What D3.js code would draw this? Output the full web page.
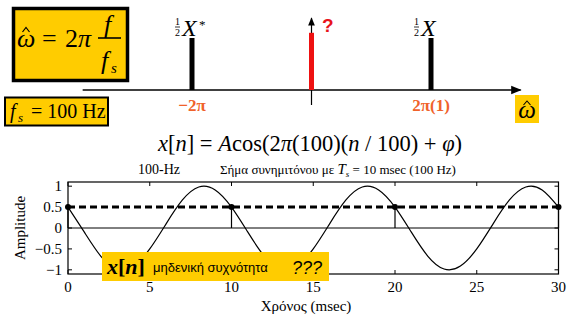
<!DOCTYPE html>
<html><head><meta charset="utf-8">
<script src="https://cdn.jsdelivr.net/npm/d3@7"></script>
<style>body{margin:0;background:#fff} svg{display:block} text{font-family:Liberation Serif, serif}</style>
</head><body><svg id="c" width="581" height="326"></svg>
<script>
// ---- spectrum (top) ----
const specPos = [-2, 0, 2];            // frequency, in units of π
const specMag = [0.5, 0.55, 0.5];      // stem heights
const specColors = ["#000000", "#ee1111", "#000000"];
const specTickLabels = ["−2π", "", "2π(1)"];
// ---- time signal (bottom) ----
const timeMs = [0,1,2,3,4,5,6,7,8,9,10,11,12,13,14,15,16,17,18,19,20,21,22,23,24,25,26,27,28,29,30];
const amplitude = [0.5,-0.10,-0.67,-0.98,-0.91,-0.5,0.10,0.67,0.98,0.91,
                   0.5,-0.10,-0.67,-0.98,-0.91,-0.5,0.10,0.67,0.98,0.91,
                   0.5,-0.10,-0.67,-0.98,-0.91,-0.5,0.10,0.67,0.98,0.91,0.5];
const sampleT = [0, 10, 20, 30];
const sampleV = [0.5, 0.5, 0.5, 0.5];
const xTicks = [0, 5, 10, 15, 20, 25, 30];
const yTicks = [1, 0.5, 0, -0.5, -1];
const yTickLabels = ["1", "0.5", "0", "−0.5", "−1"];

const GOLD = "#FFCC00", ORANGE = "#F0622A";
const SANS = "Liberation Sans, Arial, sans-serif";
const svg = d3.select("#c");

// ===== top: formula boxes =====
svg.append("rect").attr("x",13.5).attr("y",8.5).attr("width",114).attr("height",72)
  .attr("fill",GOLD).attr("stroke","#000").attr("stroke-width",3.5);
const tf = svg.append("g").style("font-size","26px");
tf.append("text").attr("x",17).attr("y",47).style("font-style","italic").text("ω");
tf.append("path").attr("d","M22.5,32 L26,27.5 L29.5,32").attr("fill","none").attr("stroke","#000").attr("stroke-width",1.2);
tf.append("text").attr("x",42).attr("y",47).text("=");
tf.append("text").attr("x",65).attr("y",47).html('2<tspan style="font-style:italic">π</tspan>');
tf.append("line").attr("x1",98).attr("x2",121).attr("y1",38).attr("y2",38).attr("stroke","#000").attr("stroke-width",1.6);
tf.append("text").attr("x",104).attr("y",33).style("font-style","italic").text("f");
tf.append("text").attr("x",101).attr("y",69).style("font-style","italic").text("f");
tf.append("text").attr("x",111).attr("y",73).style("font-style","italic").style("font-size","15px").text("s");

svg.append("rect").attr("x",5).attr("y",97.5).attr("width",103).attr("height",28)
  .attr("fill",GOLD).attr("stroke","#000").attr("stroke-width",2);
const fb = svg.append("g").style("font-size","20px");
fb.append("text").attr("x",10).attr("y",118).style("font-style","italic").text("f");
fb.append("text").attr("x",18).attr("y",122).style("font-style","italic").style("font-size","13px").text("s");
fb.append("text").attr("x",31).attr("y",118).text("= 100 Hz");

// ===== spectrum =====
const xw = d3.scaleLinear().domain([-2, 2]).range([192, 431]);
const yw = d3.scaleLinear().domain([0, 1]).range([90, -14]);
svg.append("defs").html('<marker id="ah" viewBox="0 0 10 10" refX="9" refY="5" markerWidth="7" markerHeight="7" orient="auto"><path d="M0,1 L10,5 L0,9 z" fill="#000"/></marker>');
svg.append("line").attr("x1",xw(-3.83)).attr("x2",xw(3.5)).attr("y1",yw(0)).attr("y2",yw(0))
  .attr("stroke","#000").attr("stroke-width",1.5).attr("marker-end","url(#ah)");
svg.append("line").attr("x1",xw(0)).attr("x2",xw(0)).attr("y1",105).attr("y2",18)
  .attr("stroke","#000").attr("stroke-width",1.2).attr("marker-end","url(#ah)");
svg.selectAll(".stem").data(specPos).enter().append("line")
  .attr("x1",d=>xw(d)).attr("x2",d=>xw(d)).attr("y1",yw(0)).attr("y2",(d,i)=>yw(specMag[i]))
  .attr("stroke",(d,i)=>specColors[i]).attr("stroke-width",5);
svg.append("text").attr("x",322).attr("y",32).style("font-family",SANS)
  .style("font-weight","bold").style("font-size","19px").attr("fill","#e8141b").text("?");
svg.selectAll(".sl").data(specPos).enter().append("text")
  .attr("x",d=>xw(d)).attr("y",111).attr("text-anchor","middle")
  .style("font-weight","bold").style("font-size","17px").attr("fill",ORANGE).text((d,i)=>specTickLabels[i]);
function halfX(x0, star){
  const g = svg.append("g");
  g.append("text").attr("x",x0+2.5).attr("y",25).attr("text-anchor","middle").style("font-size","10px").text("1");
  g.append("line").attr("x1",x0).attr("x2",x0+5).attr("y1",27).attr("y2",27).attr("stroke","#000").attr("stroke-width",0.8);
  g.append("text").attr("x",x0+2.5).attr("y",36).attr("text-anchor","middle").style("font-size","10px").text("2");
  g.append("text").attr("x",x0+7).attr("y",36).style("font-style","italic").style("font-size","24px").text("X");
  if (star) g.append("text").attr("x",x0+24).attr("y",29).style("font-size","13px").text("*");
}
halfX(175, true);
halfX(414, false);
svg.append("rect").attr("x",515).attr("y",95).attr("width",24).attr("height",28).attr("fill",GOLD);
svg.append("text").attr("x",527).attr("y",118).attr("text-anchor","middle")
  .style("font-style","italic").style("font-size","25px").text("ω");
svg.append("path").attr("d","M523.5,105 L527,101 L530.5,105").attr("fill","none").attr("stroke","#000").attr("stroke-width",1.1);

// ===== equation and title =====
svg.append("text").attr("x",158).attr("y",151).style("font-size","22.5px")
  .html('<tspan style="font-style:italic">x</tspan>[<tspan style="font-style:italic">n</tspan>] = <tspan style="font-style:italic">A</tspan>cos(2<tspan style="font-style:italic">π</tspan>(100)(<tspan style="font-style:italic">n</tspan> / 100) + <tspan style="font-style:italic">φ</tspan>)');
svg.append("text").attr("x",138).attr("y",174).style("font-size","14px").text("100-Hz");
svg.append("text").attr("x",220).attr("y",174).style("font-size","13px")
  .html('Σήμα συνημιτόνου με <tspan style="font-style:italic;font-size:15px">T</tspan><tspan style="font-style:italic;font-size:9px" dy="3">s</tspan><tspan dy="-3"> = 10 msec (100 Hz)</tspan>');

// ===== time plot =====
const x = d3.scaleLinear().domain([0, 30]).range([68, 558.5]);
const y = d3.scaleLinear().domain([-1.1, 1.1]).range([274, 182]);
const plot = svg.append("g");
plot.selectAll(".xt").data(xTicks).enter().append("path")
  .attr("d",d=>`M${x(d)},${y(-1.1)}v-4M${x(d)},${y(1.1)}v4`).attr("stroke","#000").attr("stroke-width",1);
plot.selectAll(".yt").data(yTicks).enter().append("path")
  .attr("d",d=>`M${x(0)},${y(d)}h4M${x(30)},${y(d)}h-4`).attr("stroke","#000").attr("stroke-width",1);
plot.append("rect").attr("x",x(0)).attr("y",y(1.1)).attr("width",x(30)-x(0)).attr("height",y(-1.1)-y(1.1))
  .attr("fill","none").attr("stroke","#000").attr("stroke-width",1.2);
plot.append("line").attr("x1",x(0)).attr("x2",x(30)).attr("y1",y(0)).attr("y2",y(0)).attr("stroke","#000").attr("stroke-width",1);
const line = d3.line().x((d,i)=>x(timeMs[i])).y(d=>y(d)).curve(d3.curveNatural);
plot.append("path").datum(amplitude).attr("d",line).attr("fill","none").attr("stroke","#000").attr("stroke-width",1.2);
plot.append("line").attr("x1",x(0)).attr("x2",x(30)).attr("y1",y(0.5)).attr("y2",y(0.5))
  .attr("stroke","#000").attr("stroke-width",3).attr("stroke-dasharray","7,4");
plot.selectAll(".st").data(sampleT).enter().append("line")
  .attr("x1",d=>x(d)).attr("x2",d=>x(d)).attr("y1",y(0)).attr("y2",(d,i)=>y(sampleV[i])).attr("stroke","#000").attr("stroke-width",1.2);
plot.selectAll(".dot").data(sampleT).enter().append("circle")
  .attr("cx",d=>x(d)).attr("cy",(d,i)=>y(sampleV[i])).attr("r",3).attr("fill","#000");
plot.selectAll(".xl").data(xTicks).enter().append("text")
  .attr("x",d=>x(d)).attr("y",292).attr("text-anchor","middle").style("font-size","15px").text(d=>d);
plot.selectAll(".yl").data(yTicks).enter().append("text")
  .attr("x",62).attr("y",d=>y(d)+5).attr("text-anchor","end").style("font-size","15px").text((d,i)=>yTickLabels[i]);
svg.append("text").attr("transform","translate(25,228) rotate(-90)").attr("text-anchor","middle")
  .style("font-size","15px").text("Amplitude");
svg.append("text").attr("x",306).attr("y",311).attr("text-anchor","middle")
  .style("font-size","15px").text("Χρόνος (msec)");

svg.append("rect").attr("x",102).attr("y",252).attr("width",227).attr("height",29).attr("fill",GOLD);
svg.append("text").attr("x",107).attr("y",274).style("font-size","22px").style("font-weight","bold")
  .html('<tspan style="font-style:italic">x</tspan>[<tspan style="font-style:italic">n</tspan>]');
svg.append("text").attr("x",153).attr("y",272).style("font-family",SANS).style("font-size","13px")
  .text("μηδενική συχνότητα");
svg.append("text").attr("x",292).attr("y",274).style("font-family",SANS).style("font-size","18px")
  .style("font-style","italic").text("???");
</script></body></html>
